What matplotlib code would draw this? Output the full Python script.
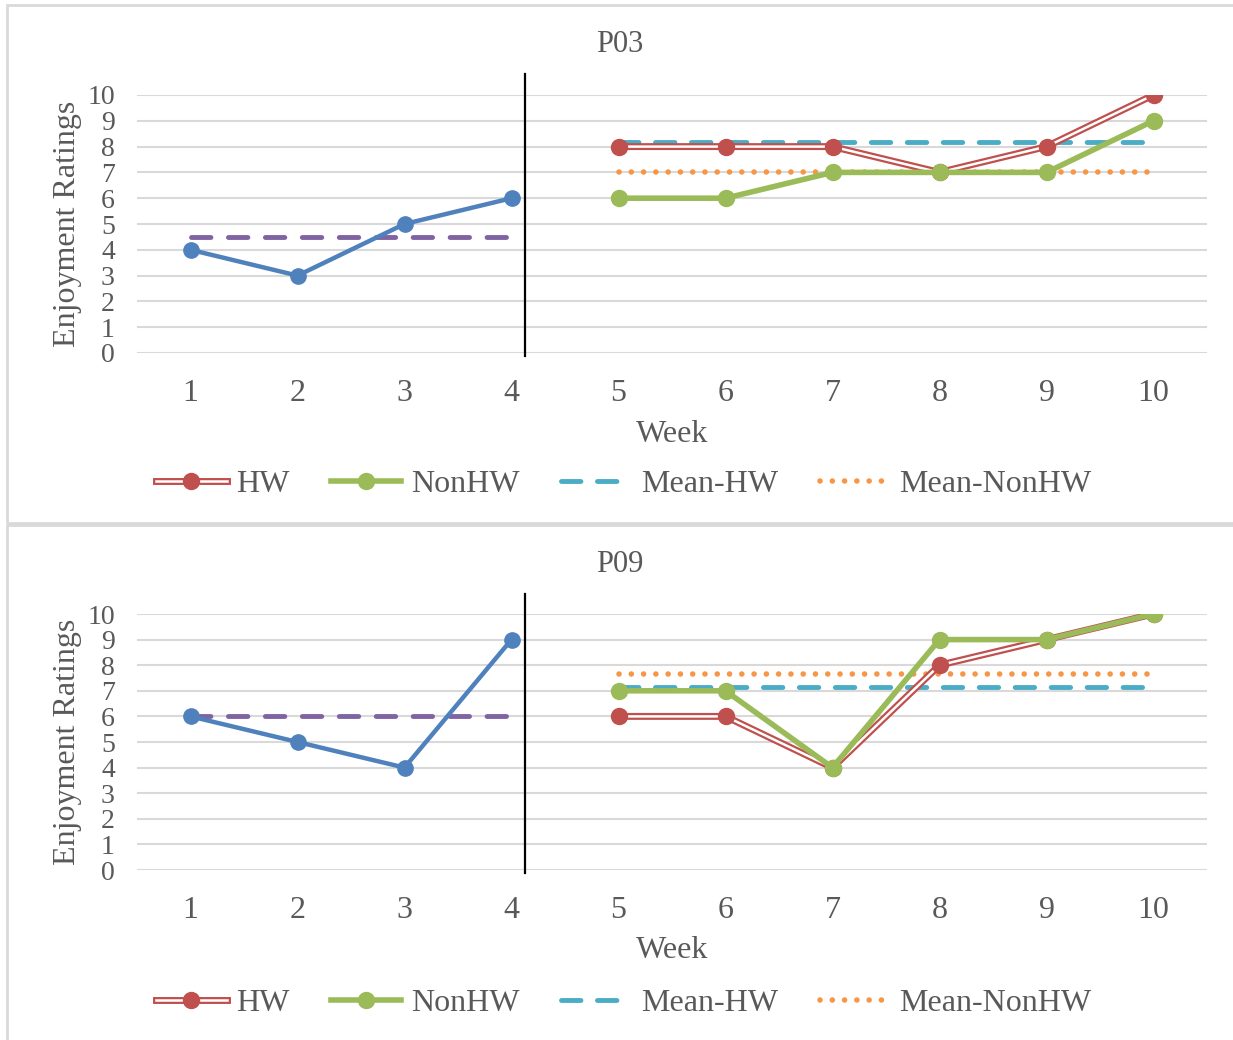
import numpy as np
import matplotlib.pyplot as plt
from matplotlib.lines import Line2D
from matplotlib.patches import Rectangle
from matplotlib.legend_handler import HandlerTuple

plt.rcParams['font.family'] = ['Liberation Serif', 'DejaVu Serif']

weeks_base = [1, 2, 3, 4]
weeks_trt = [5, 6, 7, 8, 9, 10]

titles = ['P03', 'P09']
base_vals = [[4, 3, 5, 6], [6, 5, 4, 9]]
hw_vals = [[8, 8, 8, 7, 8, 10], [6, 6, 4, 8, 9, 10]]
nonhw_vals = [[6, 6, 7, 7, 7, 9], [7, 7, 4, 9, 9, 10]]

c_blue = '#4F81BD'
c_red = '#C0504D'
c_green = '#9BBB59'
c_cyan = '#4BACC6'
c_orange = '#F79646'
c_purple = '#8064A2'
c_text = '#595959'
c_grid = '#D9D9D9'

W, H = 1233, 1040
fig = plt.figure(figsize=(W / 100, H / 100), dpi=100)

# panel frames (px: left, top, bottom)
frames = [(7, 5, 523), (7, 525, 1045)]
for left, top, bot in frames:
    fig.patches.append(Rectangle((left / W, 1 - bot / H), (W + 10 - left) / W, (bot - top) / H,
                                 transform=fig.transFigure, fill=False,
                                 edgecolor='#D9D9D9', lw=2))

# axes placement in px: y of value 0, y of value 10, title y, legend y
ax_px = [(353, 95, 45, 482), (870, 614, 565, 1001)]
x_left, x_right = 137, 1207

dash_mean = (0, (4, 3.4))
dot_mean = (0, (0.01, 2.2))

for i in range(2):
    y0, y10, ty, ly = ax_px[i]
    ax = fig.add_axes([x_left / W, 1 - y0 / H, (x_right - x_left) / W, (y0 - y10) / H])
    ax.set_xlim(0.5, 10.5)
    ax.set_ylim(0, 10)
    for s in ax.spines.values():
        s.set_visible(False)
    ax.set_yticks(range(0, 11))
    ax.set_xticks(range(1, 11))
    ax.tick_params(length=0, colors=c_text)
    ax.tick_params(axis='y', labelsize=20, pad=16)
    ax.tick_params(axis='x', labelsize=23, pad=19)
    ax.grid(axis='y', color=c_grid, lw=1.5)
    ax.set_axisbelow(True)

    # baseline
    base_mean = np.mean(base_vals[i])
    ax.plot([1, 4], [base_mean, base_mean], color=c_purple, lw=3.5, ls=(0, (4, 3.6)),
            dash_capstyle='round', zorder=2)
    ax.plot(weeks_base, base_vals[i], color=c_blue, lw=3.2, marker='o', ms=11, zorder=5)

    # phase change line
    ax.plot([4.13, 4.13], [-0.1, 10.8], color='black', lw=1.6, clip_on=False, zorder=4)

    # means
    hw_mean = np.mean(hw_vals[i])
    nonhw_mean = np.mean(nonhw_vals[i])
    ax.plot([5, 10], [hw_mean, hw_mean], color=c_cyan, lw=3.5, ls=dash_mean,
            dash_capstyle='round', zorder=3)
    ax.plot([5, 10], [nonhw_mean, nonhw_mean], color=c_orange, lw=4, ls=dot_mean,
            dash_capstyle='round', zorder=3)

    # HW double line
    ax.plot(weeks_trt, hw_vals[i], color=c_red, lw=5, zorder=6)
    ax.plot(weeks_trt, hw_vals[i], color='white', lw=1.8, zorder=6)
    ax.plot(weeks_trt, hw_vals[i], ls='none', marker='o', ms=11.5, color=c_red, zorder=6)
    # NonHW
    ax.plot(weeks_trt, nonhw_vals[i], color=c_green, lw=4, marker='o', ms=11.5, zorder=7)

    fig.text(620 / W, 1 - ty / H, titles[i], fontsize=22, color=c_text, ha='center', va='center')
    ax.set_xlabel('Week', fontsize=23, color=c_text, labelpad=8)
    ax.set_ylabel('Enjoyment Ratings', fontsize=23, color=c_text, labelpad=4)

    h_hw = (Line2D([], [], color=c_red, lw=5),
            Line2D([], [], color='white', lw=1.8),
            Line2D([], [], ls='none', marker='o', ms=11.5, color=c_red))
    h_non = Line2D([], [], color=c_green, lw=4, marker='o', ms=11.5)
    h_mhw = Line2D([], [], color=c_cyan, lw=3.5, ls=dash_mean, dash_capstyle='round')
    h_mnon = Line2D([], [], color=c_orange, lw=4, ls=dot_mean, dash_capstyle='round')
    fig.legend([h_hw, h_non, h_mhw, h_mnon], ['HW', 'NonHW', 'Mean-HW', 'Mean-NonHW'],
               handler_map={tuple: HandlerTuple(ndivide=1, pad=0)},
               loc='center', bbox_to_anchor=(624 / W, 1 - (ly + 2) / H), ncol=4, frameon=False,
               fontsize=23, handlelength=2.2, handletextpad=0.3, columnspacing=1.3,
               labelcolor=c_text)

fig.savefig('out.png', dpi=100)
